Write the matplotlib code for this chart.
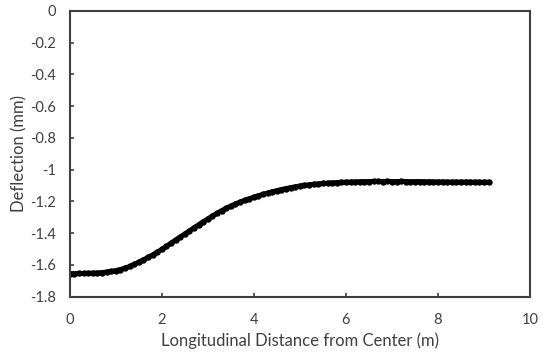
import matplotlib
matplotlib.use("Agg")
import matplotlib.pyplot as plt

# deflection profile (every 0.1 m)
distance = [round(0.1 * i, 1) for i in range(92)]
deflection = [
    -1.655, -1.655, -1.654, -1.654, -1.653, -1.652, -1.651, -1.648, -1.645, -1.641,
    -1.636, -1.629, -1.620, -1.610, -1.597, -1.582, -1.568, -1.553, -1.537, -1.520,
    -1.502, -1.483, -1.463, -1.443, -1.424, -1.405, -1.386, -1.366, -1.347, -1.328,
    -1.310, -1.292, -1.275, -1.258, -1.243, -1.229, -1.216, -1.204, -1.193, -1.183,
    -1.173, -1.164, -1.155, -1.147, -1.139, -1.132, -1.125, -1.119, -1.113, -1.108,
    -1.103, -1.099, -1.095, -1.092, -1.089, -1.087, -1.085, -1.083, -1.081, -1.080,
    -1.079, -1.078, -1.077, -1.076, -1.075, -1.075, -1.074, -1.074, -1.075, -1.074,
    -1.075, -1.075, -1.074, -1.075, -1.076, -1.075, -1.075, -1.076, -1.076, -1.077,
    -1.077, -1.077, -1.078, -1.078, -1.078, -1.078, -1.078, -1.078, -1.079, -1.079,
    -1.079, -1.079,
]
x_ticks = [0, 2, 4, 6, 8, 10]
y_ticks = [0, -0.2, -0.4, -0.6, -0.8, -1, -1.2, -1.4, -1.6, -1.8]
y_tick_labels = ["0", "-0.2", "-0.4", "-0.6", "-0.8", "-1", "-1.2", "-1.4", "-1.6", "-1.8"]

plt.rcParams['font.family'] = ['Lato', 'DejaVu Sans']

fig = plt.figure(figsize=(5.45, 3.54), dpi=100)
ax = fig.add_axes([0.128, 0.162, 0.8445, 0.807])

# dense markers in the original merge into a thick band
ax.plot(distance, deflection, linestyle='-', linewidth=3.6, marker='o', markersize=4.6,
        color='black', markeredgewidth=0, solid_capstyle='round')

ax.set_xlim(0, 10)
ax.set_ylim(-1.8, 0)
ax.set_xticks(x_ticks)
ax.set_yticks(y_ticks)
ax.set_yticklabels(y_tick_labels)
ax.tick_params(direction='in', length=3, width=1.2, color='#404040',
               labelsize=10.5, labelcolor='#404040', pad=10)
ax.tick_params(axis='x', pad=12)

for s in ax.spines.values():
    s.set_color('#404040')
    s.set_linewidth(1.5)

ax.set_xlabel("Longitudinal Distance from Center (m)", fontsize=12, color='#404040', labelpad=4)
ax.set_ylabel("Deflection (mm)", fontsize=12, color='#404040', labelpad=2)

fig.savefig("out.png", dpi=100)
